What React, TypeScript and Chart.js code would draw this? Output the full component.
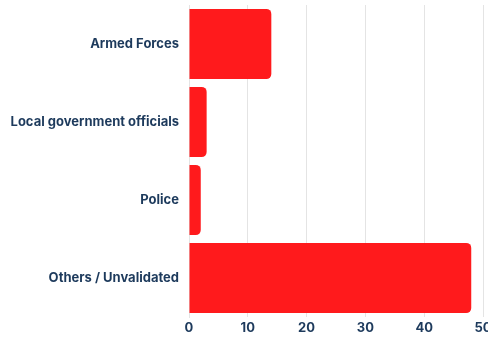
import React, { useEffect, useRef } from "react";
import { Chart, registerables } from "chart.js";

Chart.register(...registerables);

const categories = ["Armed Forces", "Local government officials", "Police", "Others / Unvalidated"];
const values = [14, 3, 2, 48];
const xTicks = [0, 10, 20, 30, 40, 50];

const textColor = "#1d3a5c";
const barColor = "#ff1a1c";

export default function App() {
  const ref = useRef<HTMLCanvasElement | null>(null);

  useEffect(() => {
    if (!ref.current) return;
    const chart = new Chart(ref.current, {
      type: "bar",
      data: {
        labels: categories,
        datasets: [
          {
            data: values,
            backgroundColor: barColor,
            borderRadius: 5,
            borderSkipped: "start",
            barPercentage: 0.9,
            categoryPercentage: 1.0,
          },
        ],
      },
      options: {
        indexAxis: "y",
        animation: false,
        responsive: false,
        maintainAspectRatio: false,
        layout: { padding: { top: 5, right: 13, bottom: 0, left: 0 } },
        plugins: { legend: { display: false }, tooltip: { enabled: false } },
        scales: {
          x: {
            min: xTicks[0],
            max: xTicks[xTicks.length - 1],
            afterBuildTicks: (scale: any) => {
              scale.ticks = xTicks.map((v) => ({ value: v }));
            },
            afterFit: (scale: any) => {
              scale.height = 21;
            },
            grid: { color: "#e4e4e4", drawTicks: false },
            border: { display: false },
            ticks: {
              color: textColor,
              padding: 3,
              font: { family: "Inter", size: 13, weight: "bold" },
            },
          },
          y: {
            afterFit: (scale: any) => {
              scale.width = 189;
              scale.paddingTop = 0;
              scale.paddingBottom = 0;
            },
            grid: { display: false, drawTicks: false },
            border: { display: true, color: "#e4e4e4" },
            ticks: {
              color: textColor,
              padding: 10,
              font: { family: "Inter", size: 13, weight: "bold" },
            },
          },
        },
      },
    });
    return () => chart.destroy();
  }, []);

  return (
    <div style={{ position: "absolute", left: 0, top: 0, width: 488, height: 338, overflow: "hidden", background: "#fff" }}>
      <canvas ref={ref} width={496} height={338} style={{ display: "block", width: 496, height: 338 }} />
    </div>
  );
}
